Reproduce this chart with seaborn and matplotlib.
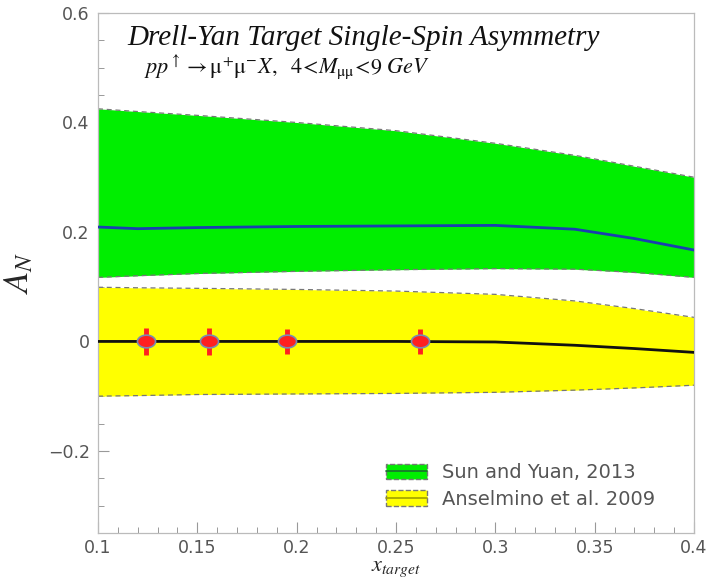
import numpy as np
import pandas as pd
import matplotlib
matplotlib.use("Agg")
import matplotlib.pyplot as plt
import seaborn as sns
from matplotlib.patches import Patch
from matplotlib.lines import Line2D
from matplotlib.path import Path
from matplotlib.ticker import MultipleLocator

# ---- data ----
x_band = [0.10, 0.12, 0.15, 0.20, 0.25, 0.30, 0.34, 0.37, 0.40]
sun_upper = [0.425, 0.420, 0.413, 0.400, 0.385, 0.362, 0.340, 0.320, 0.300]
sun_lower = [0.117, 0.120, 0.124, 0.128, 0.131, 0.133, 0.132, 0.126, 0.117]
sun_center = [0.209, 0.206, 0.208, 0.210, 0.211, 0.212, 0.205, 0.188, 0.167]
ans_upper = [0.099, 0.098, 0.097, 0.095, 0.092, 0.086, 0.074, 0.060, 0.044]
ans_lower = [-0.100, -0.099, -0.097, -0.096, -0.095, -0.093, -0.089, -0.085, -0.080]
ans_center = [0.0, 0.0, 0.0, 0.0, 0.0, -0.001, -0.007, -0.013, -0.020]

x_pts = [0.124, 0.156, 0.195, 0.262]
y_pts = [0.0, 0.0, 0.0, 0.0]
y_err = [0.024, 0.024, 0.023, 0.023]

legend_labels = ["Sun and Yuan, 2013", "Anselmino et al. 2009"]

sns.set_style("white")
plt.rcParams["mathtext.fontset"] = "stix"

fig = plt.figure(figsize=(7.07, 5.81), dpi=100)
ax = fig.add_axes([0.1386, 0.0826, 0.843, 0.895])

green = "#00ee00"
yellow = "#ffff00"
dash_col = "#777777"

ax.fill_between(x_band, sun_lower, sun_upper, color=green, lw=0, zorder=1)
ax.fill_between(x_band, ans_lower, ans_upper, color=yellow, lw=0, zorder=1)
for arr in (sun_upper, sun_lower, ans_upper, ans_lower):
    ax.plot(x_band, arr, color=dash_col, lw=0.9, ls=(0, (4, 3)), zorder=2)

df = pd.DataFrame({"x": x_band, "sun": sun_center, "ans": ans_center})
sns.lineplot(data=df, x="x", y="sun", ax=ax, color="#1a3fb0", lw=2.0, zorder=3)
sns.lineplot(data=df, x="x", y="ans", ax=ax, color="#111111", lw=2.0, zorder=3)

ax.errorbar(x_pts, y_pts, yerr=y_err, fmt="none", ecolor="#ff2020", elinewidth=3.5, zorder=4)
# elliptical marker shape
t = np.linspace(0, 2 * np.pi, 41)
ell = Path(np.column_stack([np.cos(t), 0.7 * np.sin(t)]), closed=True)
sns.scatterplot(x=x_pts, y=y_pts, ax=ax, color="#ff2020", edgecolor="#7a8cb0",
                s=170, linewidth=1.2, zorder=5, marker=ell)

ax.set_xlim(0.1, 0.4)
ax.set_ylim(-0.35, 0.6)
ax.xaxis.set_minor_locator(MultipleLocator(0.01))
ax.yaxis.set_minor_locator(MultipleLocator(0.05))
ax.set_xticks([0.1, 0.15, 0.2, 0.25, 0.3, 0.35, 0.4])
ax.set_xticklabels(["0.1", "0.15", "0.2", "0.25", "0.3", "0.35", "0.4"])
ax.set_yticks([-0.2, 0, 0.2, 0.4, 0.6])
ax.set_yticklabels(["\u22120.2", "0", "0.2", "0.4", "0.6"])
ax.tick_params(axis="both", which="major", direction="in", length=8, width=0.8,
               color="#999999", labelcolor="#555555", labelsize=12.5, pad=6,
               bottom=True, left=True)
ax.tick_params(axis="x", which="major", pad=4)
ax.tick_params(axis="both", which="minor", direction="in", length=4, width=0.7,
               color="#999999", bottom=True, left=True)
for s in ax.spines.values():
    s.set_color("#bbbbbb")
    s.set_linewidth(0.9)

ax.set_xlabel(r"$x_{target}$", fontsize=16)
ax.xaxis.set_label_coords(0.5, -0.05)
ax.set_ylabel(r"$A_N$", fontsize=25)
ax.yaxis.set_label_coords(-0.105, 0.5)

ax.text(0.05, 0.952, "Drell-Yan Target Single-Spin Asymmetry", transform=ax.transAxes,
        fontsize=21, fontstyle="italic", family="Liberation Serif", color="#111111",
        va="center")
ax.text(0.078, 0.897,
        r"$pp^{\uparrow}\rightarrow\mathrm{\mu^{+}\mu^{-}}X,\ \ 4\!<\!M_{\mathrm{\mu\mu}}\!<\!9\ GeV$",
        transform=ax.transAxes, fontsize=16, color="#111111", va="center")

h1 = (Patch(facecolor=green, edgecolor=dash_col, ls="--", lw=1.0),
      Line2D([], [], color="#1a6f30", lw=1.2))
h2 = (Patch(facecolor=yellow, edgecolor=dash_col, ls="--", lw=1.0),
      Line2D([], [], color="#a0a000", lw=1.2))
leg = ax.legend([h1, h2], legend_labels, loc="upper left",
                bbox_to_anchor=(386 / 707, 1 - 463 / 581), bbox_transform=fig.transFigure,
                frameon=False, fontsize=14, handlelength=2.1, handleheight=0.85,
                handletextpad=0.8, labelspacing=0.4, borderpad=0.0, borderaxespad=0.0)
for t_ in leg.get_texts():
    t_.set_color("#555555")

fig.savefig("out.png", dpi=100)
